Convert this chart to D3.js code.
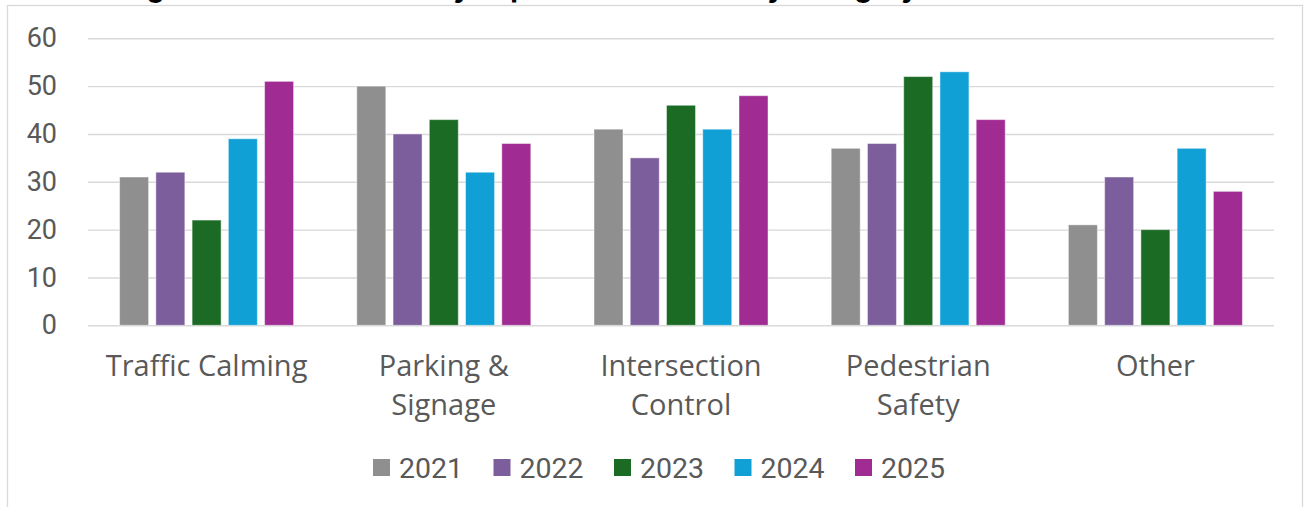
<!DOCTYPE html>
<html>
<head>
<meta charset="utf-8">
<script src="https://cdn.jsdelivr.net/npm/d3@7"></script>
<style>
  html, body { margin: 0; padding: 0; background: #ffffff; }
  svg { display: block; }
</style>
</head>
<body>
<svg id="chart" width="1304" height="507"></svg>
<script>
// ---- data ----
const title = "Neighborhood Road Safety Improvement Votes by Category (2021–2025)";
const categories = ["Traffic Calming", "Parking & Signage", "Intersection Control", "Pedestrian Safety", "Other"];
const categoryLines = [["Traffic Calming"], ["Parking &", "Signage"], ["Intersection", "Control"], ["Pedestrian", "Safety"], ["Other"]];
const years = ["2021", "2022", "2023", "2024", "2025"];
const values2021 = [31, 50, 41, 37, 21];
const values2022 = [32, 40, 35, 38, 31];
const values2023 = [22, 43, 46, 52, 20];
const values2024 = [39, 32, 41, 53, 37];
const values2025 = [51, 38, 48, 43, 28];
const yTicks = [0, 10, 20, 30, 40, 50, 60];
const colors = ["#8f8f8f", "#7b5e9b", "#1b6b25", "#10a0d6", "#a02b92"];

const seriesValues = [values2021, values2022, values2023, values2024, values2025];

const svg = d3.select("#chart");

// chart frame
svg.append("rect")
  .attr("x", 7.5).attr("y", 5.5)
  .attr("width", 1295).attr("height", 520)
  .attr("fill", "#ffffff")
  .attr("stroke", "#d9d9d9").attr("stroke-width", 1.3);

// title (clipped by top of window, as in the reference)
svg.append("text")
  .attr("x", 1098).attr("y", -3)
  .attr("text-anchor", "end")
  .attr("font-family", "Inter, 'Liberation Sans', sans-serif")
  .attr("font-weight", "bold")
  .attr("font-size", 28)
  .attr("fill", "#000000")
  .text(title);

const plotLeft = 88, plotRight = 1274, plotTop = 38.3, plotBottom = 325.3;

const y = d3.scaleLinear().domain([0, 60]).range([plotBottom, plotTop]);
const x0 = d3.scaleBand().domain(categories).range([plotLeft, plotRight]).paddingInner(0).paddingOuter(0);
const groupWidth = 174;
const x1 = d3.scaleBand().domain(years).range([0, groupWidth]).paddingInner(0.2).paddingOuter(0);

// gridlines + y tick labels
const yAxis = d3.axisLeft(y).tickValues(yTicks).tickSize(-(plotRight - plotLeft)).tickFormat(d3.format("d"));
const gy = svg.append("g").attr("transform", `translate(${plotLeft},0)`).call(yAxis);
gy.select(".domain").remove();
gy.selectAll(".tick line").attr("stroke", "#d9d9d9").attr("stroke-width", 1.4);
gy.selectAll(".tick text")
  .attr("x", -31)
  .attr("fill", "#595959")
  .attr("font-family", "Roboto, Arial, sans-serif")
  .attr("font-size", 27);

// bars
const data = [];
categories.forEach((c, i) => {
  years.forEach((yr, j) => {
    data.push({ cat: c, year: yr, value: seriesValues[j][i], color: colors[j] });
  });
});

svg.append("g").selectAll("rect")
  .data(data)
  .join("rect")
  .attr("x", d => x0(d.cat) + x0.bandwidth() / 2 - groupWidth / 2 + x1(d.year))
  .attr("y", d => y(d.value))
  .attr("width", x1.bandwidth())
  .attr("height", d => y(0) - y(d.value))
  .attr("fill", d => d.color)
  .attr("stroke", "#ffffff").attr("stroke-opacity", 0.45).attr("stroke-width", 1);

// category labels
const gx = svg.append("g");
categories.forEach((c, i) => {
  const cx = x0(c) + x0.bandwidth() / 2;
  const t = gx.append("text")
    .attr("x", cx)
    .attr("y", 376)
    .attr("text-anchor", "middle")
    .attr("font-family", "'Open Sans', 'Noto Sans', sans-serif")
    .attr("font-size", 29)
    .attr("fill", "#595959");
  categoryLines[i].forEach((ln, k) => {
    t.append("tspan").attr("x", cx).attr("dy", k === 0 ? 0 : 39).text(ln);
  });
});

// legend
const legendStart = 373, legendStep = 120.5;
const lg = svg.append("g");
years.forEach((yr, j) => {
  const item = lg.append("g").attr("transform", `translate(${legendStart + j * legendStep},0)`);
  item.append("rect").attr("x", 0).attr("y", 459).attr("width", 17).attr("height", 17).attr("fill", colors[j]);
  item.append("text")
    .attr("x", 26).attr("y", 478)
    .attr("font-family", "Roboto, Arial, sans-serif")
    .attr("font-size", 28.5)
    .attr("fill", "#595959")
    .text(yr);
});
</script>
</body>
</html>
